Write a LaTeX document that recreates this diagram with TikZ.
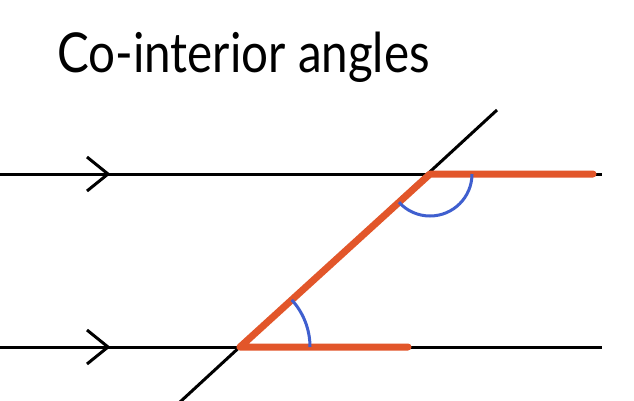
\documentclass[tikz,border=0pt]{standalone}
\usepackage{fontspec}
\setmainfont{Lato}
\definecolor{redseg}{HTML}{E2562A}
\definecolor{arcblue}{HTML}{3F5FCF}
\begin{document}
\begin{tikzpicture}[x={(1pt,0)},y={(0,-1pt)},
  blackline/.style={line width=3pt,black},
  redline/.style={line width=7pt,redseg,line cap=round},
  anglearc/.style={line width=3pt,arcblue},
  chevron/.style={line width=3pt,black,line join=miter}]
\useasboundingbox (0,0) rectangle (634,400);
\fill[white] (0,0) rectangle (634,400);
\node[anchor=base west,inner sep=0pt,xscale=0.865,font=\fontsize{55}{60}\selectfont] (title) at (57,72) {Co-interior angles};
% parallel lines
\coordinate (tl) at (0,174);
\coordinate (tr) at (602,174);
\coordinate (bl) at (0,347);
\coordinate (br) at (602,347);
\draw[blackline] (tl) -- (tr);
\draw[blackline] (bl) -- (br);
% chevrons
\coordinate (c1a) at (87,157);
\coordinate (c1b) at (108,174);
\coordinate (c1c) at (87,191);
\coordinate (c2a) at (87,330);
\coordinate (c2b) at (108,347);
\coordinate (c2c) at (87,364);
\draw[chevron] (c1a) -- (c1b) -- (c1c);
\draw[chevron] (c2a) -- (c2b) -- (c2c);
% transversal
\coordinate (P) at (430,174);
\coordinate (Q) at (240,347);
\coordinate (ttop) at (497,110);
\coordinate (tbot) at (180,402);
\draw[blackline] (tbot) -- (ttop);
% red segments
\coordinate (rt) at (593,174);
\coordinate (rb) at (408,347);
\draw[redline,line join=round] (rt) -- (P) -- (Q) -- (rb);
% arcs
\draw[anglearc] ([shift={(42,0)}]P) arc[start angle=0,end angle=-137.7,radius=42pt];
\draw[anglearc] ([shift={(70,0)}]Q) arc[start angle=0,end angle=42.3,radius=70pt];
\end{tikzpicture}
\end{document}
